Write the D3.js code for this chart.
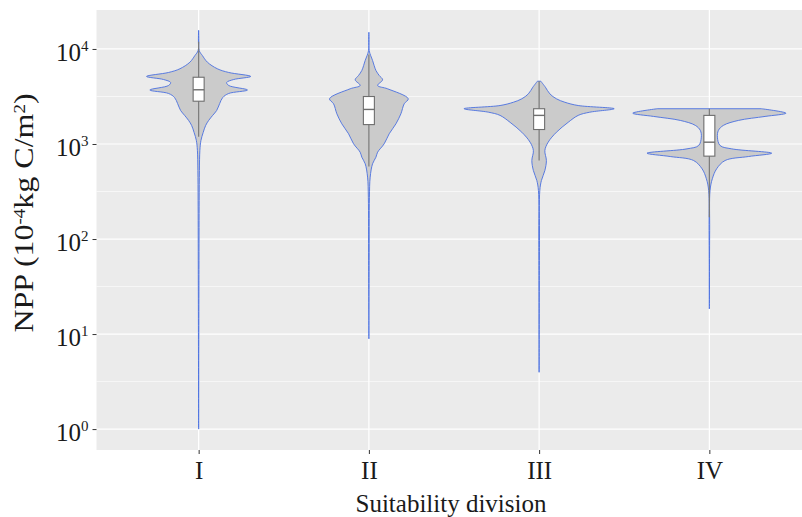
<!DOCTYPE html>
<html>
<head>
<meta charset="utf-8">
<script src="https://cdn.jsdelivr.net/npm/d3@7"></script>
<style>
    body { margin: 0; background: #fff; }
    text { font-family: "Liberation Serif", "Times New Roman", serif; fill: #1a1a1a; }
</style>
</head>
<body>
<svg width="802" height="517"></svg>
<script>
// categories and axis ticks
const categories = ["I", "II", "III", "IV"];
const yTicks = [1, 10, 100, 1000, 10000];
const yMinorTicks = [3.162, 31.62, 316.2, 3162];

// violin outlines: NPP value and scaled density (0..1)
const nppI = [15700, 9640, 8550, 7260, 6190, 5660, 5140, 4770, 4440, 4130, 3700, 3400, 3080, 2670, 2250, 2000, 1770, 1570, 1320, 1090, 855, 526, 254, 59, 1.0];
const densI = [0, 0.007, 0.048, 0.114, 0.244, 0.392, 0.68, 0.458, 0.366, 0.392, 0.637, 0.392, 0.314, 0.275, 0.235, 0.183, 0.131, 0.092, 0.059, 0.030, 0.016, 0.010, 0.007, 0.005, 0];

const nppII = [15000, 9640, 7570, 5940, 5260, 4740, 4130, 3810, 2990, 2650, 2080, 1630, 1280, 1005, 820, 726, 619, 448, 275, 59, 8.9];
const densII = [0, 0.004, 0.048, 0.092, 0.135, 0.179, 0.114, 0.244, 0.514, 0.461, 0.418, 0.353, 0.265, 0.2, 0.114, 0.092, 0.048, 0.017, 0.007, 0.004, 0];

const nppIII = [4580, 3960, 3370, 2990, 2750, 2540, 2350, 2160, 2000, 1690, 1330, 1045, 855, 670, 526, 413, 324, 96, 3.96];
const densIII = [0.022, 0.082, 0.14, 0.226, 0.336, 0.51, 0.98, 0.66, 0.51, 0.379, 0.226, 0.118, 0.075, 0.095, 0.075, 0.03, 0.009, 0.005, 0];

const nppIV = [2350, 2110, 1950, 1770, 1570, 1390, 1180, 964, 889, 800, 738, 670, 548, 431, 324, 123, 18.4];
const densIV = [0.68, 1.0, 0.728, 0.379, 0.183, 0.118, 0.105, 0.14, 0.292, 0.814, 0.51, 0.205, 0.095, 0.039, 0.009, 0.004, 0];

// boxplot stats
const boxQ1 = [2820, 1600, 1420, 745];
const boxMedian = [3720, 2310, 2000, 1045];
const boxQ3 = [5040, 3160, 2350, 2000];
const whiskerLow = [1190, 578, 670, 170];
const whiskerHigh = [11900, 8770, 4580, 2350];

const violins = [[nppI, densI], [nppII, densII], [nppIII, densIII], [nppIV, densIV]];

let svg = d3.select('svg');
let panel = { left: 96.5, right: 811.5, top: 10, bottom: 450 };

let xScale = d3.scalePoint()
    .domain(categories)
    .range([panel.left, panel.right])
    .padding(0.6);

let yScale = d3.scaleLog()
    .domain([Math.pow(10, -0.22), Math.pow(10, 4.41)])
    .range([panel.bottom, panel.top]);

let wScale = d3.scaleLinear()
    .domain([0, 1])
    .range([0, xScale.step() * 0.45]);

// panel background + grid
svg.append('rect')
    .attr('x', panel.left)
    .attr('y', panel.top)
    .attr('width', panel.right - panel.left)
    .attr('height', panel.bottom - panel.top)
    .style('fill', '#EBEBEB');

svg.selectAll('.minor').data(yMinorTicks)
    .enter().append('line')
    .attr('class', 'minor')
    .attr('x1', panel.left).attr('x2', panel.right)
    .attr('y1', d => yScale(d)).attr('y2', d => yScale(d))
    .style('stroke', '#fff').style('stroke-width', 0.6);

svg.selectAll('.major').data(yTicks)
    .enter().append('line')
    .attr('class', 'major')
    .attr('x1', panel.left).attr('x2', panel.right)
    .attr('y1', d => yScale(d)).attr('y2', d => yScale(d))
    .style('stroke', '#fff').style('stroke-width', 1.2);

svg.selectAll('.vgrid').data(categories)
    .enter().append('line')
    .attr('class', 'vgrid')
    .attr('x1', d => xScale(d)).attr('x2', d => xScale(d))
    .attr('y1', panel.top).attr('y2', panel.bottom)
    .style('stroke', '#fff').style('stroke-width', 1.2);

// violins
let g = svg.append('g');
violins.forEach(function (v, i) {
    let cx = xScale(categories[i]);
    let pts = v[0].map((n, j) => [n, v[1][j]]);
    let area = d3.area()
        .y(d => yScale(d[0]))
        .x0(d => cx - wScale(d[1]))
        .x1(d => cx + wScale(d[1]))
        .curve(d3.curveCatmullRom.alpha(0.5));
    g.append('path')
        .datum(pts)
        .attr('class', 'violin')
        .attr('d', area)
        .style('fill', '#CBCBCB')
        .style('stroke', '#4a6fe0')
        .style('stroke-width', 0.9);
});

// boxplots
let boxHalf = 5.5;
categories.forEach(function (c, i) {
    let cx = xScale(c);
    g.append('line')
        .attr('x1', cx).attr('x2', cx)
        .attr('y1', yScale(whiskerLow[i])).attr('y2', yScale(whiskerHigh[i]))
        .style('stroke', '#7a7a7a').style('stroke-width', 1.2);
    g.append('rect')
        .attr('x', cx - boxHalf)
        .attr('y', yScale(boxQ3[i]))
        .attr('width', boxHalf * 2)
        .attr('height', yScale(boxQ1[i]) - yScale(boxQ3[i]))
        .style('fill', '#fff')
        .style('stroke', '#6e6e6e')
        .style('stroke-width', 1.1);
    g.append('line')
        .attr('x1', cx - boxHalf).attr('x2', cx + boxHalf)
        .attr('y1', yScale(boxMedian[i])).attr('y2', yScale(boxMedian[i]))
        .style('stroke', '#6e6e6e').style('stroke-width', 1.4);
});

// axes
let yAxis = d3.axisLeft(yScale).tickValues(yTicks).tickSize(4).tickPadding(4);
let yg = svg.append('g')
    .attr('transform', 'translate(' + panel.left + ',0)')
    .call(yAxis);
yg.select('.domain').remove();
yg.selectAll('line').style('stroke', '#333');
yg.selectAll('text')
    .style('font-size', '25px')
    .attr('dy', '0.45em')
    .text('')
    .each(function (d) {
        let t = d3.select(this);
        t.append('tspan').text('10');
        t.append('tspan')
            .style('font-size', '15px')
            .attr('baseline-shift', '65%')
            .text(Math.round(Math.log10(d)));
    });

let xAxis = d3.axisBottom(xScale).tickSize(4).tickPadding(7);
let xg = svg.append('g')
    .attr('transform', 'translate(0,' + panel.bottom + ')')
    .call(xAxis);
xg.select('.domain').remove();
xg.selectAll('line').style('stroke', '#333');
xg.selectAll('text').style('font-size', '25px');

// axis titles
svg.append('text')
    .attr('x', 451)
    .attr('y', 512)
    .style('text-anchor', 'middle')
    .style('font-size', '26px')
    .attr('textLength', 191)
    .attr('lengthAdjust', 'spacingAndGlyphs')
    .text('Suitability division');

let yt = svg.append('text')
    .attr('transform', 'translate(33,213) rotate(-90) scale(1,0.85)')
    .style('text-anchor', 'middle')
    .style('font-size', '32px');
yt.append('tspan').text('NPP (10');
yt.append('tspan').attr('baseline-shift', '50%').style('font-size', '19px').text('-4');
yt.append('tspan').text('kg C/m');
yt.append('tspan').attr('baseline-shift', '50%').style('font-size', '19px').text('2');
yt.append('tspan').text(')');
</script>
</body>
</html>
